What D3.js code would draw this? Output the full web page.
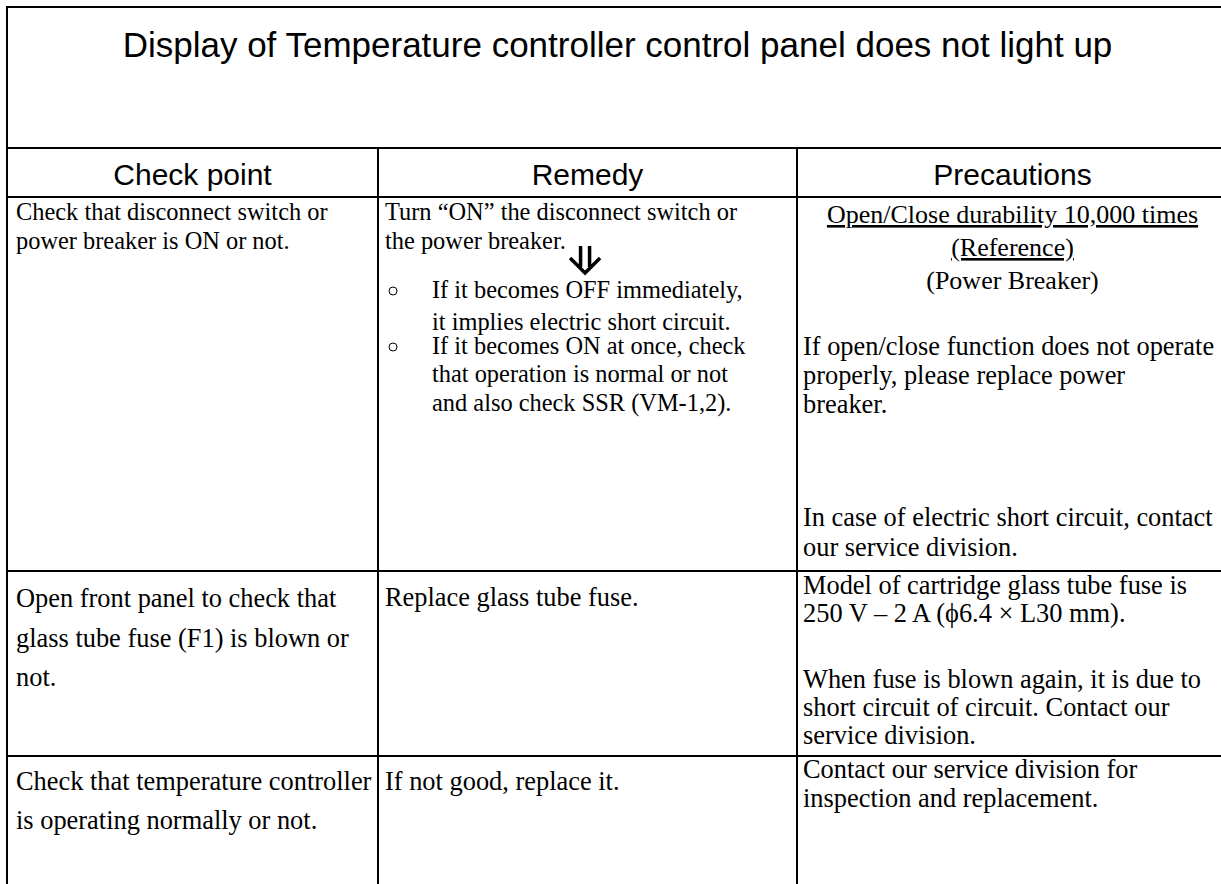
<!DOCTYPE html>
<html>
<head>
<meta charset="utf-8">
<script src="https://cdn.jsdelivr.net/npm/d3@7"></script>
<style>
  body { margin: 0; background: #fff; }
  svg { display: block; }
</style>
</head>
<body>
<svg id="chart"></svg>
<script>
// isi tabel
const title = "Display of Temperature controller control panel does not light up";
const headers = ["Check point", "Remedy", "Precautions"];

const checkPoints = [
  ["Check that disconnect switch or", "power breaker is ON or not."],
  ["Open front panel to check that", "glass tube fuse (F1) is blown or", "not."],
  ["Check that temperature controller", "is operating normally or not."]
];

const remedyIntro = ["Turn \u201cON\u201d the disconnect switch or", "the power breaker."];
const remedyBullets = [
  ["If it becomes OFF immediately,", "it implies electric short circuit."],
  ["If it becomes ON at once, check", "that operation is normal or not", "and also check SSR (VM-1,2)."]
];
const remedies = [null, ["Replace glass tube fuse."], ["If not good, replace it."]];

const precautionNotes = ["Open/Close durability 10,000 times", "(Reference)", "(Power Breaker)"];
const precautions = [
  ["If open/close function does not operate", "properly, please replace power", "breaker.",
   "In case of electric short circuit, contact", "our service division."],
  ["Model of cartridge glass tube fuse is", "250 V \u2013 2 A (\u03d56.4 \u00d7 L30 mm).",
   "When fuse is blown again, it is due to", "short circuit of circuit. Contact our", "service division."],
  ["Contact our service division for", "inspection and replacement."]
];

// ukuran halaman
const width = 1221, height = 884;
const colEdges = [7, 378, 797, 1228];
const rowEdges = [7, 148, 197, 571, 756, 900];
const fsBig = 26.4, fsSmall = 24.4;

const svg = d3.select("#chart").attr("width", width).attr("height", height);

const x = d3.scaleOrdinal().domain(d3.range(colEdges.length)).range(colEdges);
const y = d3.scaleOrdinal().domain(d3.range(rowEdges.length)).range(rowEdges);

const serif = "'Liberation Serif', 'Times New Roman', serif";
const sans = "'Liberation Sans', Arial, sans-serif";

// garis tabel
const grid = svg.append("g").attr("stroke", "#000").attr("stroke-width", 2);
grid.selectAll(".hline")
  .data(d3.range(rowEdges.length - 1))
  .enter().append("line")
  .attr("x1", x(0) - 1).attr("x2", x(3))
  .attr("y1", d => y(d)).attr("y2", d => y(d));
grid.append("line")
  .attr("x1", x(0)).attr("x2", x(0))
  .attr("y1", y(0)).attr("y2", y(5));
grid.selectAll(".vline")
  .data([1, 2, 3])
  .enter().append("line")
  .attr("x1", d => x(d)).attr("x2", d => x(d))
  .attr("y1", y(1)).attr("y2", y(5));

// judul
svg.append("text")
  .attr("x", (x(0) + x(3)) / 2)
  .attr("y", 57)
  .attr("text-anchor", "middle")
  .attr("font-family", sans)
  .attr("font-size", 35)
  .text(title);

// header kolom
svg.selectAll(".header")
  .data(headers)
  .enter().append("text")
  .attr("x", (d, i) => (x(i) + x(i + 1)) / 2)
  .attr("y", 185)
  .attr("text-anchor", "middle")
  .attr("font-family", sans)
  .attr("font-size", 30)
  .text(d => d);

function lines(g, arr, x0, baselines, size, anchor) {
  return g.selectAll(null)
    .data(arr)
    .enter().append("text")
    .attr("x", x0)
    .attr("y", (d, i) => baselines[i])
    .attr("text-anchor", anchor || "start")
    .attr("font-family", serif)
    .attr("font-size", size)
    .text(d => d);
}

const body = svg.append("g").attr("fill", "#000");

// kolom 1
const cpBase = [[220, 249], [607, 647, 686], [790, 829]];
checkPoints.forEach((c, i) => lines(body, c, x(0) + 9, cpBase[i], i === 0 ? fsSmall : fsBig));

// kolom 2
lines(body, remedyIntro, x(1) + 7, [220, 249], fsSmall);

// panah ke bawah setelah "the power breaker"
const probe = body.append("text")
  .attr("font-family", serif).attr("font-size", fsSmall)
  .text("the power breaker");
const arrowX = x(1) + 7 + probe.node().getComputedTextLength() + 24;
probe.remove();
const arrowTop = 246, arrowTip = 273;
const arrow = d3.path();
arrow.moveTo(arrowX - 4.5, arrowTop); arrow.lineTo(arrowX - 4.5, arrowTip - 6);
arrow.moveTo(arrowX + 4.5, arrowTop); arrow.lineTo(arrowX + 4.5, arrowTip - 6);
arrow.moveTo(arrowX - 15, arrowTip - 15); arrow.lineTo(arrowX, arrowTip); arrow.lineTo(arrowX + 15, arrowTip - 15);
body.append("path")
  .attr("d", arrow.toString())
  .attr("fill", "none")
  .attr("stroke", "#000")
  .attr("stroke-width", 3.5);

const bulletBase = [[298, 330], [354, 382, 411]];
remedyBullets.forEach((b, i) => {
  body.append("circle")
    .attr("cx", x(1) + 15).attr("cy", bulletBase[i][0] - 7)
    .attr("r", 4)
    .attr("fill", "none")
    .attr("stroke", "#000")
    .attr("stroke-width", 1);
  lines(body, b, x(1) + 54, bulletBase[i], fsSmall);
});
lines(body, remedies[1], x(1) + 7, [606], fsBig);
lines(body, remedies[2], x(1) + 7, [790], fsBig);

// kolom 3
lines(body, precautionNotes, (x(2) + x(3)) / 2, [223, 256, 289], 26, "middle")
  .style("text-decoration", (d, i) => i < 2 ? "underline" : null);

const prBase = [
  [355, 384, 413, 526, 556],
  [594, 622, 688, 716, 744],
  [778, 807]
];
precautions.forEach((p, i) => lines(body, p, x(2) + 6, prBase[i], fsBig));
</script>
</body>
</html>
